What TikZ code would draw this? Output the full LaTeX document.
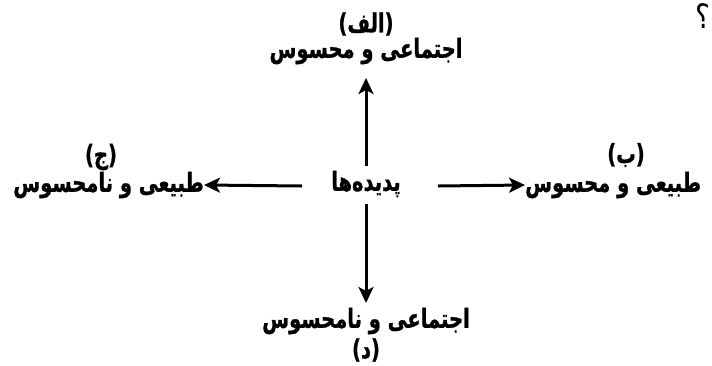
\documentclass[tikz,border=0pt]{standalone}
\usepackage{fontspec}
\usetikzlibrary{arrows.meta}
\TeXXeTstate=1
\newfontfamily\arabicfont[Script=Arabic,BoldFont={DejaVu Sans Bold},BoldFeatures={FakeBold=1.2}]{DejaVu Sans}
\newcommand{\fatext}[1]{\scalebox{1}[1.35]{\beginR #1\endR}}
\tikzset{
  lbl/.style={font=\arabicfont\bfseries\fontsize{19.5}{22}\selectfont, inner sep=0pt},
  arr/.style={line width=3pt, -{Stealth[length=16pt,width=15pt,inset=4pt]}}
}
\begin{document}
\begin{tikzpicture}[x=1pt,y=-1pt]
\useasboundingbox[fill=white] (0,0) rectangle (712,365);
\node[lbl] (c) at (366,184) {\fatext{پدیده‌ها}};
\node[lbl] (aT) at (366,24) {\fatext{(الف)}};
\node[lbl] (a) at (366,51) {\fatext{اجتماعی و محسوس}};
\node[lbl] (jT) at (101,157) {\fatext{(ج)}};
\node[lbl,anchor=east] (j) at (204,185) {\fatext{طبیعی و نامحسوس}};
\node[lbl] (bT) at (626,155) {\fatext{(ب)}};
\node[lbl,anchor=west] (b) at (525,185) {\fatext{طبیعی و محسوس}};
\node[lbl] (d) at (366,321) {\fatext{اجتماعی و نامحسوس}};
\node[lbl] (dT) at (366,350) {\fatext{(د)}};
\node[font=\arabicfont\fontsize{28}{30}\selectfont, inner sep=0pt] (q) at (703,16) {\scalebox{1}[1.2]{\beginR ؟\endR}};
\coordinate (cu) at (366,166);
\coordinate (cd) at (366,204);
\coordinate (cl) at (302,186);
\coordinate (cr) at (438,186);
\coordinate (au) at (366,78);
\coordinate (dd) at (366,303);
\draw[arr] (cu) -- (au);
\draw[arr] (cd) -- (dd);
\draw[arr] (cl) -- (j.east);
\draw[arr] (cr) -- (b.west);
\end{tikzpicture}
\end{document}
